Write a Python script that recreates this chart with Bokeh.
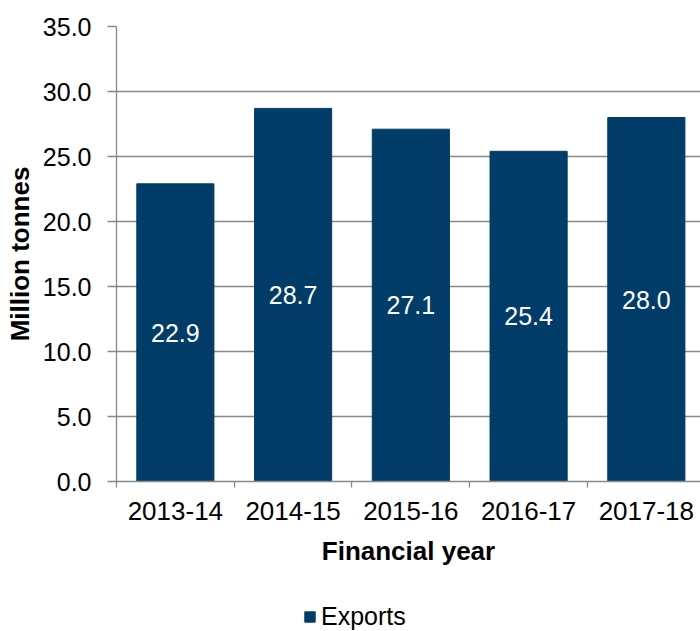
from bokeh.plotting import figure
from bokeh.layouts import column
from bokeh.models import Range1d, FixedTicker, PrintfTickFormatter, Legend, LegendItem, ColumnDataSource
from bokeh.core.properties import value
from bokeh.embed import file_html
from bokeh.resources import INLINE

years = ["2013-14", "2014-15", "2015-16", "2016-17", "2017-18"]
exports = [22.9, 28.7, 27.1, 25.4, 28.0]
y_ticks = [0, 5, 10, 15, 20, 25, 30, 35]
series_name = "Exports"

FONT = "Liberation Sans"
BAR = "#023C69"
GRID = "#898989"

xc = [i + 0.5 for i in range(len(years))]
src = ColumnDataSource(dict(
    x=xc, top=exports, mid=[v / 2 for v in exports],
    lab=["%.1f" % v for v in exports],
))

p = figure(width=700, height=590, output_backend="svg", toolbar_location=None,
           x_range=Range1d(0, 4.96), y_range=Range1d(0, 35),
           min_border_left=116, min_border_right=0, min_border_top=26, min_border_bottom=109)
p.outline_line_color = None
p.background_fill_color = "white"
p.border_fill_color = "white"

r = p.vbar(x="x", top="top", width=0.655, bottom=0, source=src,
           fill_color=BAR, line_color=BAR)
p.text(x="x", y="mid", text="lab", source=src, text_color="white",
       text_font=value(FONT), text_font_size="25px",
       text_align="center", text_baseline="middle")

# x axis
p.xaxis.ticker = FixedTicker(ticks=xc, minor_ticks=list(range(len(years) + 1)))
p.xaxis.major_label_overrides = {c: y for c, y in zip(xc, years)}
p.xaxis.major_tick_out = 0
p.xaxis.major_tick_in = 0
p.xaxis.minor_tick_out = 6
p.xaxis.minor_tick_in = 0
p.xaxis.minor_tick_line_color = GRID
p.xaxis.minor_tick_line_width = 1.3
p.xaxis.axis_line_color = GRID
p.xaxis.axis_line_width = 1.3
p.xaxis.major_label_text_font = FONT
p.xaxis.major_label_text_font_size = "26px"
p.xaxis.major_label_text_color = "black"
p.xaxis.major_label_standoff = 14
p.xaxis.axis_label = "Financial year"
p.xaxis.axis_label_text_font = FONT
p.xaxis.axis_label_text_font_size = "26px"
p.xaxis.axis_label_text_font_style = "bold"
p.xaxis.axis_label_text_color = "black"
p.xaxis.axis_label_standoff = 13

# y axis
p.yaxis.ticker = FixedTicker(ticks=y_ticks)
p.yaxis.formatter = PrintfTickFormatter(format="%.1f")
p.yaxis.major_tick_out = 9
p.yaxis.major_tick_in = 0
p.yaxis.minor_tick_line_color = None
p.yaxis.major_tick_line_color = GRID
p.yaxis.major_tick_line_width = 1.3
p.yaxis.axis_line_color = GRID
p.yaxis.axis_line_width = 1.3
p.yaxis.major_label_text_font = FONT
p.yaxis.major_label_text_font_size = "25px"
p.yaxis.major_label_text_color = "black"
p.yaxis.major_label_standoff = 16
p.yaxis.axis_label = "Million tonnes"
p.yaxis.axis_label_text_font = FONT
p.yaxis.axis_label_text_font_size = "26px"
p.yaxis.axis_label_text_font_style = "bold"
p.yaxis.axis_label_text_color = "black"
p.yaxis.axis_label_standoff = 5

p.xgrid.grid_line_color = None
p.ygrid.ticker = FixedTicker(ticks=y_ticks)
p.ygrid.grid_line_color = GRID
p.ygrid.grid_line_width = 1.3

# legend strip below the chart
lg = figure(width=700, height=41, output_backend="svg", toolbar_location=None,
            x_range=Range1d(0, 4.96), y_range=Range1d(0, 35),
            x_axis_type=None, y_axis_type=None,
            min_border=0, min_border_left=0, min_border_right=0,
            min_border_top=0, min_border_bottom=0)
lg.outline_line_color = None
lg.xgrid.grid_line_color = None
lg.ygrid.grid_line_color = None
lg.background_fill_color = "white"
lg.border_fill_color = "white"
r2 = lg.vbar(x="x", top="top", width=0.655, bottom=0, source=src,
             fill_color=BAR, line_color=BAR, visible=False)

legend = Legend(items=[LegendItem(label=series_name, renderers=[r2])],
                location=(187, 0), orientation="horizontal",
                glyph_width=13, glyph_height=13, label_standoff=5,
                padding=0, margin=0, spacing=0, click_policy="none",
                border_line_color=None, background_fill_alpha=0,
                inactive_fill_alpha=0,
                label_text_font=FONT, label_text_font_size="25px",
                label_text_color="black")
lg.add_layout(legend, "center")

layout = column(p, lg, spacing=0)
open("out.html", "w").write(file_html(layout, INLINE))
